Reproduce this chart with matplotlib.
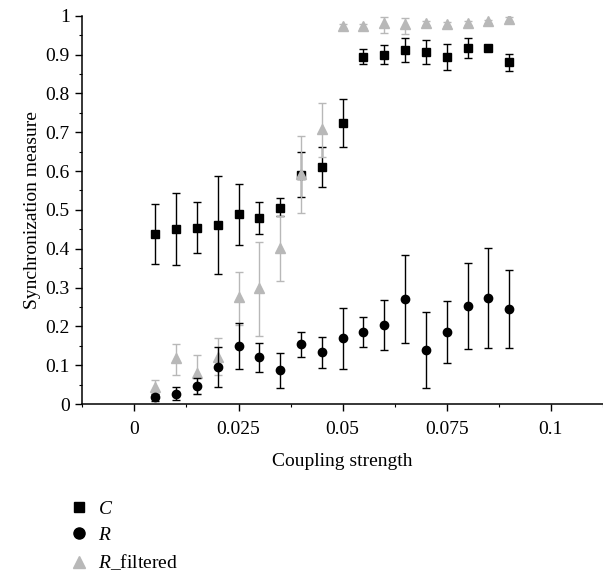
import numpy as np
import matplotlib
matplotlib.use("Agg")
import matplotlib.pyplot as plt
from matplotlib.lines import Line2D

plt.rcParams['font.family'] = ['Liberation Serif', 'DejaVu Serif']
plt.rcParams['mathtext.fontset'] = 'custom'
plt.rcParams['mathtext.it'] = 'Liberation Serif:italic'
plt.rcParams['mathtext.rm'] = 'Liberation Serif'

# ---- data ----
coupling = [0.005, 0.01, 0.015, 0.02, 0.025, 0.03, 0.035, 0.04, 0.045,
            0.05, 0.055, 0.06, 0.065, 0.07, 0.075, 0.08, 0.085, 0.09]

C_val = [0.438, 0.451, 0.453, 0.460, 0.488, 0.478, 0.506, 0.590, 0.611,
         0.724, 0.894, 0.900, 0.912, 0.907, 0.894, 0.918, 0.917, 0.880]
C_low = [0.361, 0.358, 0.390, 0.335, 0.410, 0.437, 0.484, 0.534, 0.559,
         0.663, 0.876, 0.876, 0.881, 0.876, 0.860, 0.891, 0.912, 0.858]
C_high = [0.515, 0.544, 0.521, 0.587, 0.567, 0.519, 0.530, 0.648, 0.662,
          0.785, 0.914, 0.924, 0.943, 0.938, 0.928, 0.943, 0.922, 0.902]

R_val = [0.017, 0.027, 0.047, 0.096, 0.149, 0.122, 0.088, 0.155, 0.133,
         0.169, 0.186, 0.203, 0.270, 0.140, 0.185, 0.252, 0.273, 0.245]
R_low = [0.007, 0.010, 0.025, 0.045, 0.090, 0.083, 0.040, 0.122, 0.092,
         0.090, 0.148, 0.140, 0.157, 0.042, 0.106, 0.142, 0.143, 0.145]
R_high = [0.027, 0.045, 0.066, 0.148, 0.208, 0.158, 0.132, 0.186, 0.173,
          0.248, 0.225, 0.269, 0.384, 0.238, 0.265, 0.362, 0.403, 0.345]

Rf_val = [0.045, 0.118, 0.079, 0.122, 0.275, 0.298, 0.401, 0.592, 0.707,
          0.973, 0.973, 0.980, 0.978, 0.980, 0.978, 0.982, 0.985, 0.992]
Rf_low = [0.030, 0.075, 0.025, 0.075, 0.203, 0.175, 0.318, 0.491, 0.635,
          0.968, 0.968, 0.955, 0.954, 0.975, 0.973, 0.977, 0.980, 0.987]
Rf_high = [0.061, 0.154, 0.126, 0.169, 0.341, 0.416, 0.485, 0.689, 0.774,
           0.978, 0.978, 0.996, 0.993, 0.985, 0.983, 0.987, 0.990, 0.997]

x_ticks = [0, 0.025, 0.05, 0.075, 0.1]
x_tick_labels = ["0", "0.025", "0.05", "0.075", "0.1"]
y_ticks = [0, 0.1, 0.2, 0.3, 0.4, 0.5, 0.6, 0.7, 0.8, 0.9, 1.0]
y_tick_labels = ["0", "0.1", "0.2", "0.3", "0.4", "0.5", "0.6", "0.7", "0.8", "0.9", "1"]

series_labels = [r"$C$", r"$R$", r"$R$_filtered"]
grey = "#b8b8b8"
FS = 14

# ---- figure ----
fig = plt.figure(figsize=(6.03, 5.72), dpi=100)
ax = fig.add_axes([0.1365, 0.2937, 0.8635, 0.6789])


def err(v, lo, hi):
    v = np.asarray(v); lo = np.asarray(lo); hi = np.asarray(hi)
    return np.vstack([v - lo, hi - v])


ax.errorbar(coupling, C_val, yerr=err(C_val, C_low, C_high), fmt='s', color='black',
            ms=5.5, ecolor='black', elinewidth=1.0, capsize=3, capthick=1.0, zorder=3)
ax.errorbar(coupling, Rf_val, yerr=err(Rf_val, Rf_low, Rf_high), fmt='^', color=grey,
            ms=6.5, ecolor=grey, elinewidth=1.0, capsize=3, capthick=1.0, zorder=4)
ax.errorbar(coupling, R_val, yerr=err(R_val, R_low, R_high), fmt='o', color='black',
            ms=6, ecolor='black', elinewidth=1.0, capsize=3, capthick=1.0, zorder=5)

ax.set_xlim(-0.0125, 0.1125)
ax.set_ylim(0, 1)
ax.set_xticks(x_ticks)
ax.set_xticklabels(x_tick_labels)
ax.set_yticks(y_ticks)
ax.set_yticklabels(y_tick_labels)
ax.set_xticks(np.arange(-0.0125, 0.1126, 0.0125), minor=True)
ax.set_yticks(np.arange(0, 1.001, 0.05), minor=True)

for s in ['top', 'right']:
    ax.spines[s].set_visible(False)
for s in ['left', 'bottom']:
    ax.spines[s].set_linewidth(1.1)
ax.tick_params(which='major', length=5, width=1.0, labelsize=FS, pad=4)
ax.tick_params(which='minor', length=2.5, width=0.8)
ax.tick_params(axis='x', pad=7)

ax.set_xlabel("Coupling strength", fontsize=FS, labelpad=11)
ax.set_ylabel("Synchronization measure", fontsize=FS, labelpad=3)

handles = [
    Line2D([], [], ls='none', marker='s', color='black', ms=6.5),
    Line2D([], [], ls='none', marker='o', color='black', ms=8),
    Line2D([], [], ls='none', marker='^', color=grey, ms=8),
]
fig.legend(handles, series_labels, loc='upper left', bbox_to_anchor=(0.12, 0.126),
           frameon=False, fontsize=FS, handlelength=0.7, handletextpad=0.6,
           labelspacing=0.45, borderaxespad=0, borderpad=0)

fig.savefig("out.png", dpi=100)
